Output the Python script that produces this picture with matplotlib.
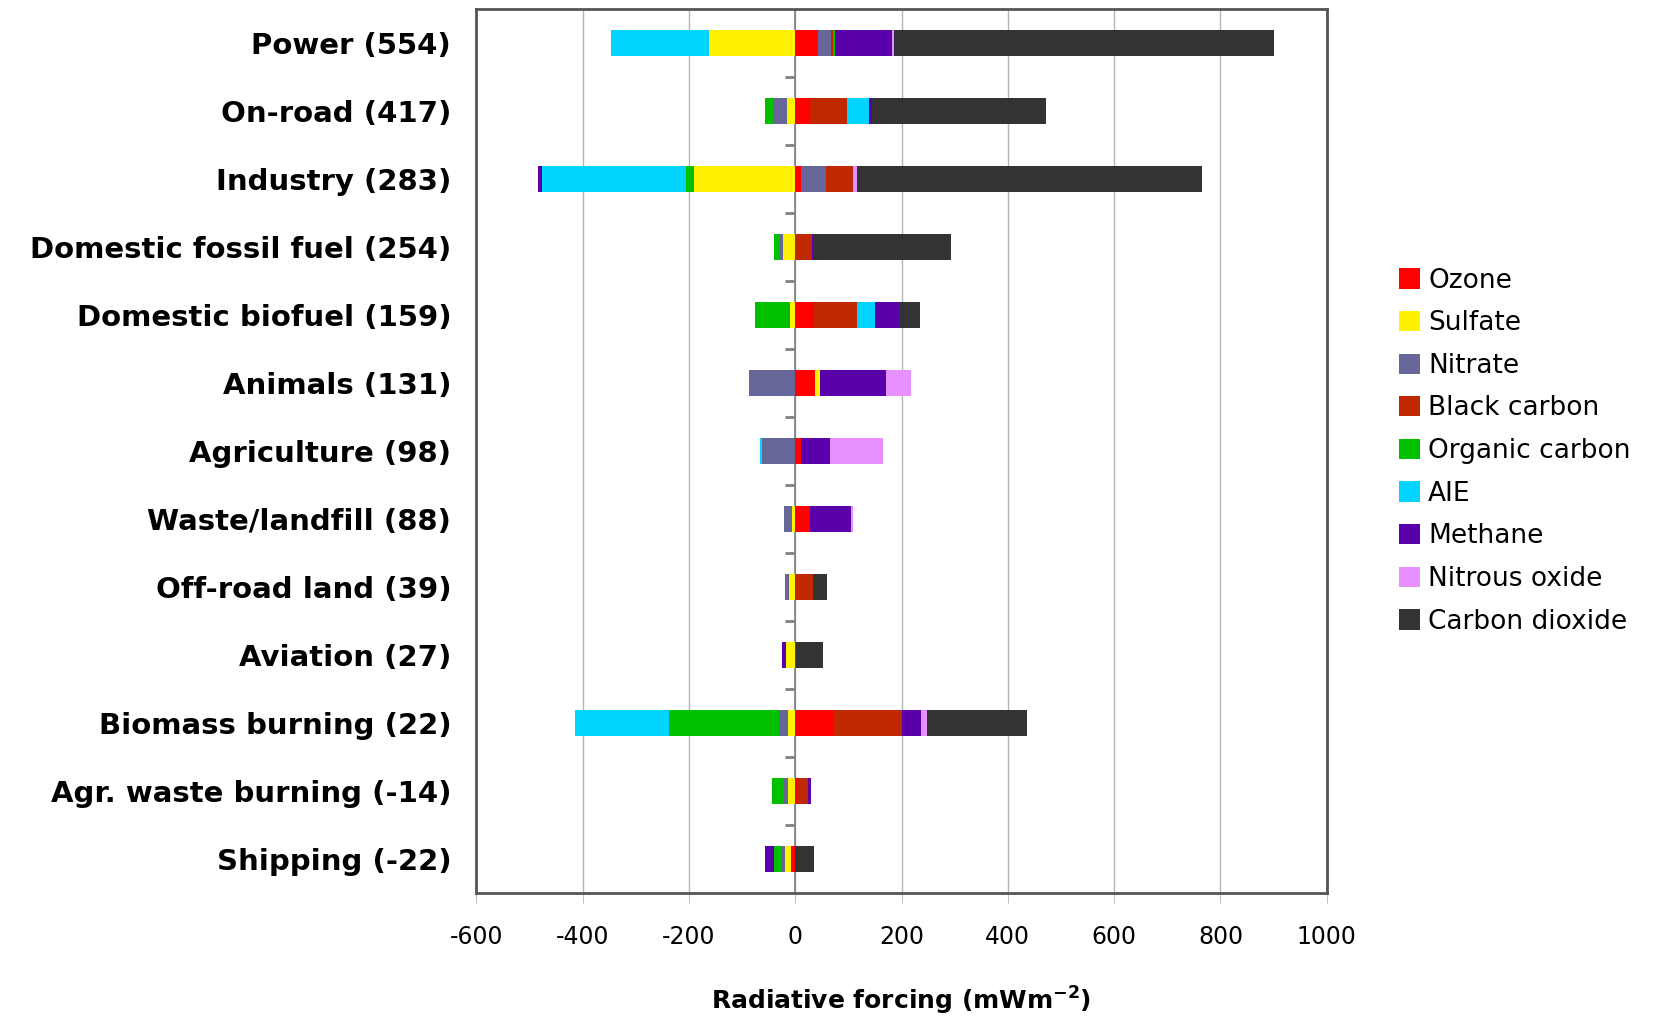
import numpy as np
import matplotlib
matplotlib.use('Agg')
import matplotlib.pyplot as plt
from matplotlib.patches import Patch

plt.rcParams['axes.unicode_minus'] = False

# Sectors (net forcing in brackets), top to bottom
sectors = ['Power (554)', 'On-road (417)', 'Industry (283)', 'Domestic fossil fuel (254)',
           'Domestic biofuel (159)', 'Animals (131)', 'Agriculture (98)', 'Waste/landfill (88)',
           'Off-road land (39)', 'Aviation (27)', 'Biomass burning (22)',
           'Agr. waste burning (-14)', 'Shipping (-22)']

# Radiative forcing by species for each sector (mW m-2), same order as sectors
ozone     = [43, 28, 10, 0, 36, 37, 11, 28, 2, 2, 71, 3, -7]
sulfate   = [-163, -15, -190, -23, -10, 10, 0, -6, -12, -17, -14, -13, -13]
nitrate   = [24, -26, 48, -6, 0, -86, -62, -15, -8, 0, -17, -8, -7]
black_c   = [4, 70, 51, 31, 80, 0, 0, 0, 32, 0, 130, 22, 0]
organic_c = [4, -16, -16, -10, -65, 0, 0, 0, 0, 0, -206, -22, -12]
aie       = [-183, 41, -270, 0, 34, 0, -5, 0, 0, 0, -177, 0, 0]
methane   = [108, 5, -7, 2, 45, 123, 54, 77, 0, -8, 35, 4, -18]
n2o       = [2, 0, 7, 0, 0, 47, 100, 4, 0, 0, 12, 0, 0]
co2       = [715, 328, 650, 260, 39, 0, 0, 0, 25, 50, 188, 0, 35]

species = ['Ozone', 'Sulfate', 'Nitrate', 'Black carbon', 'Organic carbon',
           'AIE', 'Methane', 'Nitrous oxide', 'Carbon dioxide']
series = [ozone, sulfate, nitrate, black_c, organic_c, aie, methane, n2o, co2]
colors = ['#FF0000', '#FFF200', '#666699', '#C02800', '#00C000',
          '#00D4FF', '#5A00AA', '#E691FF', '#333333']

fig = plt.figure(figsize=(16.71, 10.16), dpi=100)
ax = fig.add_axes([0.285, 0.121, 0.509, 0.870])

y = np.arange(len(sectors))
pos_left = np.zeros(len(sectors))
neg_left = np.zeros(len(sectors))

# Stack positive values to the right and negative values to the left of zero
for name, vals, col in zip(species, series, colors):
    vals = np.array(vals, dtype=float)
    pos = np.where(vals > 0, vals, 0)
    neg = np.where(vals < 0, vals, 0)
    ax.barh(y, pos, left=pos_left, height=0.38, color=col, zorder=3)
    ax.barh(y, neg, left=neg_left, height=0.38, color=col, zorder=3)
    pos_left += pos
    neg_left += neg

ax.set_xlim(-600, 1000)
ax.set_ylim(len(sectors) - 0.5, -0.5)
ax.set_xticks(np.arange(-600, 1001, 200))
ax.grid(axis='x', color='#b4b4b4', linewidth=1, zorder=0)
ax.axvline(0, color='#808080', linewidth=1.2, zorder=2)

# small category separator ticks on the zero line
ax.hlines(y[:-1] + 0.5, -20, 0, color='#808080', linewidth=2, zorder=2)

ax.set_yticks(y)
ax.set_yticklabels(sectors, fontsize=21, fontweight='bold')
ax.tick_params(axis='y', length=0, pad=18)
ax.tick_params(axis='x', length=7, color='#c0c0c0', labelsize=17, pad=16)

for s in ax.spines.values():
    s.set_color('#555555')
    s.set_linewidth(2)

ax.set_xlabel(r'Radiative forcing (mWm$^{\mathbf{-2}}$)', fontsize=18,
              fontweight='bold', labelpad=26)

handles = [Patch(facecolor=c, edgecolor='none') for c in colors]
fig.legend(handles, species, loc='upper left', bbox_to_anchor=(0.831, 0.747),
           frameon=False, fontsize=19, handlelength=0.8, handleheight=0.8,
           handletextpad=0.3, labelspacing=0.63, borderaxespad=0)

plt.savefig('out.png', dpi=100)
